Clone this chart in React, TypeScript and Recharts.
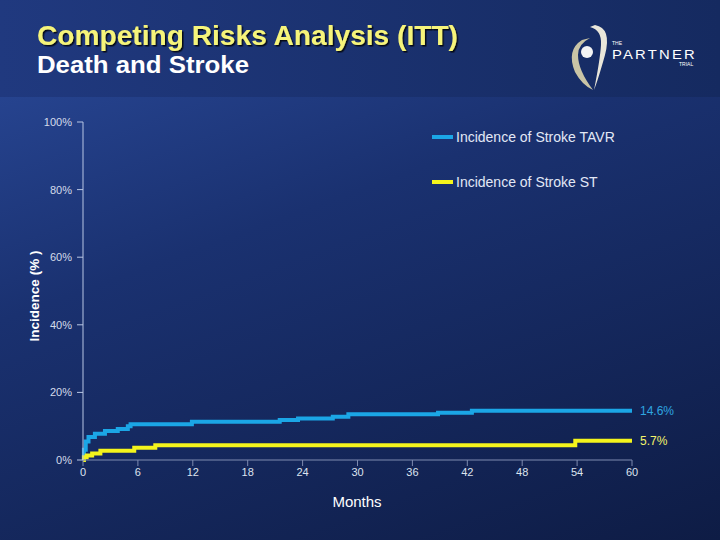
import React from "react";
import { LineChart, Line, XAxis, YAxis } from "recharts";

// Months and cumulative incidence (%)
const tavrMonths = [0, 0.1, 0.3, 0.6, 1.3, 2.4, 3.8, 4.9, 5.2, 11.9, 21.5, 23.5, 27.3, 29, 38.8, 42.5, 60];
const tavrValues = [0, 3, 5.5, 6.8, 7.8, 8.6, 9.2, 10, 10.6, 11.3, 11.8, 12.3, 12.8, 13.5, 14, 14.6, 14.6];

const stMonths = [0, 0.1, 0.4, 1.0, 1.9, 5.6, 7.9, 53.8, 60];
const stValues = [0, 0.8, 1.3, 1.9, 2.7, 3.6, 4.4, 5.7, 5.7];

const monthTicks = [0, 6, 12, 18, 24, 30, 36, 42, 48, 54, 60];
const pctTicks = [0, 20, 40, 60, 80, 100];

const seriesNames = ["Incidence of Stroke TAVR", "Incidence of Stroke ST"];
const BLUE = "#1ba6e6";
const YELLOW = "#f4f41c";
const FONT = "'Liberation Sans', Arial, sans-serif";

const tavrData = tavrMonths.map((m, i) => ({ month: m, value: tavrValues[i] }));
const stData = stMonths.map((m, i) => ({ month: m, value: stValues[i] }));

const endLabel = (color: string, count: number) => (props: any) => {
  const { x, y, index, value } = props;
  if (index !== count - 1) return null;
  return (
    <text x={x + 8} y={y + 4} fill={color} fontSize={12} fontFamily={FONT}>
      {value.toFixed(1)}%
    </text>
  );
};

function LegendBox() {
  const colors = [BLUE, YELLOW];
  return (
    <div style={{ position: "absolute", left: 432, top: 114, fontFamily: FONT }}>
      {seriesNames.map((name, i) => (
        <div key={name} style={{ display: "flex", alignItems: "center", height: 45 }}>
          <div style={{ width: 21, height: 4, background: colors[i], marginRight: 3 }} />
          <span style={{ color: "#e2e8f6", fontSize: 14 }}>{name}</span>
        </div>
      ))}
    </div>
  );
}

function Header() {
  return (
    <svg width={720} height={97} style={{ position: "absolute", left: 0, top: 0 }}>
      <defs>
        <linearGradient id="hdr" x1="0" y1="0" x2="1" y2="0">
          <stop offset="0" stopColor="#20397f" />
          <stop offset="1" stopColor="#152a60" />
        </linearGradient>
        <filter id="sh">
          <feDropShadow dx="1.5" dy="1.5" stdDeviation="0.6" floodColor="#000" floodOpacity="0.8" />
        </filter>
      </defs>
      <rect width={720} height={97} fill="url(#hdr)" />
      <text x={37} y={45} fontFamily={FONT} fontWeight="bold" fontSize={27} fill="#f6f47a"
        textLength={421} lengthAdjust="spacingAndGlyphs" filter="url(#sh)">
        Competing Risks Analysis (ITT)
      </text>
      <text x={37} y={73} fontFamily={FONT} fontWeight="bold" fontSize={24} fill="#ffffff"
        textLength={212} lengthAdjust="spacingAndGlyphs">
        Death and Stroke
      </text>
      {/* logo */}
      <path d="M 595 25 Q 612 28 605 55 Q 598 80 594 90 Q 600 60 601 45 Q 602 30 590 27 Z" fill="#e9e6da" />
      <path d="M 582 40 Q 566 50 575 72 Q 582 85 593 90 Q 578 70 578 55 Q 578 44 590 38 Z" fill="#c9c4a6" />
      <circle cx={587} cy={52} r={6} fill="#f4f4f4" />
      <text x={612} y={45} fontFamily={FONT} fontSize={5} fill="#ffffff">THE</text>
      <text x={612} y={59} fontFamily={FONT} fontSize={12} fill="#ffffff" letterSpacing={1.8}
        textLength={85} lengthAdjust="spacingAndGlyphs">PARTNER</text>
      <text x={679} y={66} fontFamily={FONT} fontSize={5} fill="#ffffff">TRIAL</text>
    </svg>
  );
}

export default function App() {
  return (
    <div
      style={{
        position: "absolute",
        left: 0,
        top: 0,
        width: 720,
        height: 540,
        overflow: "hidden",
        background: "linear-gradient(160deg, #2b4b9c 0%, #1a3170 40%, #0e1c45 100%)",
      }}
    >
      <Header />
      <div style={{ position: "absolute", left: 0, top: 0 }}>
        <LineChart width={720} height={540} margin={{ top: 122, right: 88, bottom: 50, left: 0 }}>
          <XAxis
            dataKey="month"
            type="number"
            domain={[0, 60]}
            ticks={monthTicks}
            height={30}
            tick={{ fill: "#dde3ef", fontSize: 11, fontFamily: FONT }}
            tickLine={{ stroke: "#7e8bb0" }}
            axisLine={{ stroke: "#7e8bb0" }}
            tickSize={6}
            allowDuplicatedCategory={false}
          />
          <YAxis
            type="number"
            domain={[0, 100]}
            ticks={pctTicks}
            width={83}
            tickFormatter={(v: number) => `${v}%`}
            tick={{ fill: "#d4dbea", fontSize: 11, fontFamily: FONT }}
            tickLine={{ stroke: "#b8c6e4" }}
            axisLine={{ stroke: "#b8c6e4" }}
            tickSize={6}
            tickMargin={5}
          />
          <Line
            data={tavrData}
            dataKey="value"
            name={seriesNames[0]}
            type="stepAfter"
            stroke={BLUE}
            strokeWidth={4}
            dot={false}
            isAnimationActive={false}
            label={endLabel("#2fa6e0", tavrData.length)}
          />
          <Line
            data={stData}
            dataKey="value"
            name={seriesNames[1]}
            type="stepAfter"
            stroke={YELLOW}
            strokeWidth={4}
            dot={false}
            isAnimationActive={false}
            label={endLabel("#f4f46a", stData.length)}
          />
        </LineChart>
      </div>
      <LegendBox />
      <div
        style={{
          position: "absolute",
          left: 34,
          top: 296,
          transform: "translate(-50%, -50%) rotate(-90deg)",
          color: "#ffffff",
          fontFamily: FONT,
          fontWeight: "bold",
          fontSize: 13.5,
          whiteSpace: "nowrap",
        }}
      >
        Incidence (% )
      </div>
      <div
        style={{
          position: "absolute",
          left: 357,
          top: 501,
          transform: "translate(-50%, -50%)",
          color: "#ffffff",
          fontFamily: FONT,
          fontSize: 15,
          whiteSpace: "nowrap",
        }}
      >
        Months
      </div>
    </div>
  );
}
